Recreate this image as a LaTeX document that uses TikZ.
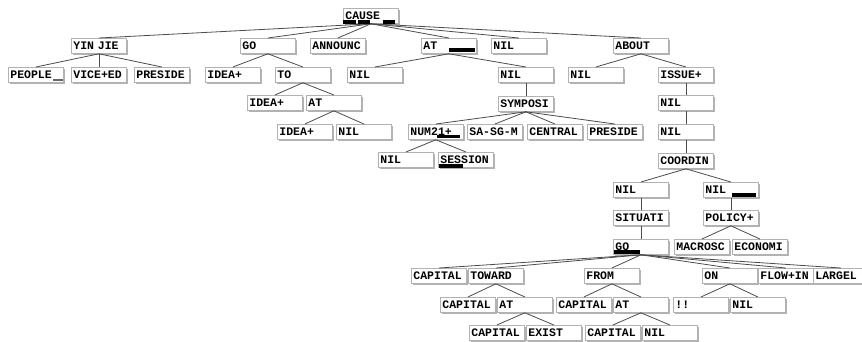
\documentclass[tikz,border=0pt]{standalone}
\usepackage{fontspec}
\setmonofont{Liberation Mono}
\usetikzlibrary{shadows}
\begin{document}
\begin{tikzpicture}[x=1pt,y=-1pt,
        cell/.style={anchor=north west, draw=black!30, line width=0.8pt, fill=white,
            drop shadow={shadow xshift=1.4pt, shadow yshift=-1.4pt, fill=black!30, opacity=1},
            text width=51pt, inner xsep=2pt, inner ysep=0pt, minimum height=15pt, align=left,
            font=\ttfamily\bfseries\fontsize{11.5}{12}\selectfont},
        edge/.style={draw=black!70, line width=0.8pt}]
        \useasboundingbox (0,0) rectangle (862,341);

        \node[cell] (cause) at (343,8) {CAUSE};

        \node[cell] (yinjie) at (71,38) {YIN JIE};
        \node[cell] (go) at (240,38) {GO};
        \node[cell] (announc) at (310,38) {ANNOUNC};
        \node[cell] (at) at (421,38) {AT};
        \node[cell] (nilA) at (491,38) {NIL};
        \node[cell] (about) at (613,38) {ABOUT};

        \node[cell] (people) at (8,67) {PEOPLE};
        \node[cell] (viceed) at (71,67) {VICE+ED};
        \node[cell] (preside) at (134,67) {PRESIDE};
        \node[cell] (ideaA) at (205,67) {IDEA+};
        \node[cell] (to) at (275,67) {TO};
        \node[cell] (nilB) at (347,67) {NIL};
        \node[cell] (nilC) at (498,67) {NIL};
        \node[cell] (nilD) at (568,67) {NIL};
        \node[cell] (issue) at (658,67) {ISSUE+};

        \node[cell] (ideaB) at (247,95) {IDEA+};
        \node[cell] (atB) at (306,95) {AT};
        \node[cell] (symposi) at (498,96) {SYMPOSI};
        \node[cell] (nilE) at (658,95) {NIL};

        \node[cell] (ideaC) at (277,124) {IDEA+};
        \node[cell] (nilF) at (336,124) {NIL};
        \node[cell] (num) at (408,124) {NUM21+};
        \node[cell] (sasgm) at (467,124) {SA-SG-M};
        \node[cell] (central) at (527,124) {CENTRAL};
        \node[cell] (presideB) at (587,124) {PRESIDE};
        \node[cell] (nilG) at (658,124) {NIL};

        \node[cell] (nilH) at (378,152) {NIL};
        \node[cell] (session) at (438,152) {SESSION};
        \node[cell] (coordin) at (658,153) {COORDIN};

        \node[cell] (nilI) at (613,182) {NIL};
        \node[cell] (nilJ) at (703,182) {NIL};

        \node[cell] (situati) at (613,210) {SITUATI};
        \node[cell] (policy) at (703,210) {POLICY+};

        \node[cell] (goB) at (613,239) {GO};
        \node[cell] (macrosc) at (674,239) {MACROSC};
        \node[cell] (economi) at (732,239) {ECONOMI};

        \node[cell] (capA) at (411,268) {CAPITAL};
        \node[cell] (toward) at (468,268) {TOWARD};
        \node[cell] (from) at (584,268) {FROM};
        \node[cell] (on) at (702,268) {ON};
        \node[cell] (flowin) at (758,268) {FLOW+IN};
        \node[cell] (largel) at (813,268) {LARGEL};

        \node[cell] (capB) at (440,297) {CAPITAL};
        \node[cell] (atC) at (497,297) {AT};
        \node[cell] (capC) at (556,297) {CAPITAL};
        \node[cell] (atD) at (613,297) {AT};
        \node[cell] (bang) at (673,297) {!!};
        \node[cell] (nilK) at (730,297) {NIL};

        \node[cell] (capD) at (469,325) {CAPITAL};
        \node[cell] (exist) at (526,325) {EXIST};
        \node[cell] (capE) at (585,325) {CAPITAL};
        \node[cell] (nilL) at (642,325) {NIL};

        \draw[edge] (cause.south) -- (yinjie.north);
        \draw[edge] (cause.south) -- (go.north);
        \draw[edge] (cause.south) -- (announc.north);
        \draw[edge] (cause.south) -- (at.north);
        \draw[edge] (cause.south) -- (nilA.north);
        \draw[edge] (cause.south) -- (about.north);

        \draw[edge] (yinjie.south) -- (people.north);
        \draw[edge] (yinjie.south) -- (viceed.north);
        \draw[edge] (yinjie.south) -- (preside.north);
        \draw[edge] (go.south) -- (ideaA.north);
        \draw[edge] (go.south) -- (to.north);
        \draw[edge] (at.south) -- (nilB.north);
        \draw[edge] (at.south) -- (nilC.north);
        \draw[edge] (about.south) -- (nilD.north);
        \draw[edge] (about.south) -- (issue.north);

        \draw[edge] (to.south) -- (ideaB.north);
        \draw[edge] (to.south) -- (atB.north);
        \draw[edge] (atB.south) -- (ideaC.north);
        \draw[edge] (atB.south) -- (nilF.north);
        \draw[edge] (nilC.south) -- (symposi.north);
        \draw[edge] (issue.south) -- (nilE.north);
        \draw[edge] (nilE.south) -- (nilG.north);

        \draw[edge] (symposi.south) -- (num.north);
        \draw[edge] (symposi.south) -- (sasgm.north);
        \draw[edge] (symposi.south) -- (central.north);
        \draw[edge] (symposi.south) -- (presideB.north);
        \draw[edge] (num.south) -- (nilH.north);
        \draw[edge] (num.south) -- (session.north);
        \draw[edge] (nilG.south) -- (coordin.north);

        \draw[edge] (coordin.south) -- (nilI.north);
        \draw[edge] (coordin.south) -- (nilJ.north);
        \draw[edge] (nilI.south) -- (situati.north);
        \draw[edge] (nilJ.south) -- (policy.north);
        \draw[edge] (situati.south) -- (goB.north);
        \draw[edge] (policy.south) -- (macrosc.north);
        \draw[edge] (policy.south) -- (economi.north);

        \draw[edge] (goB.south) -- (capA.north);
        \draw[edge] (goB.south) -- (toward.north);
        \draw[edge] (goB.south) -- (from.north);
        \draw[edge] (goB.south) -- (on.north);
        \draw[edge] (goB.south) -- (flowin.north);
        \draw[edge] (goB.south) -- (largel.north);

        \draw[edge] (toward.south) -- (capB.north);
        \draw[edge] (toward.south) -- (atC.north);
        \draw[edge] (from.south) -- (capC.north);
        \draw[edge] (from.south) -- (atD.north);
        \draw[edge] (on.south) -- (bang.north);
        \draw[edge] (on.south) -- (nilK.north);
        \draw[edge] (atC.south) -- (capD.north);
        \draw[edge] (atC.south) -- (exist.north);
        \draw[edge] (atD.south) -- (capE.north);
        \draw[edge] (atD.south) -- (nilL.north);

        \fill (343,20) rectangle (356,24);
        \fill (358,20) rectangle (370,24);
        \fill (383,20) rectangle (395,24);
        \fill (449,48) rectangle (475,52);
        \fill (437,135) rectangle (460,138);
        \fill (439,164) rectangle (463,168);
        \fill (732,193) rectangle (756,197);
        \fill (614,250) rectangle (640,254);
        \fill[black!60] (53,79) rectangle (63,81);
    \end{tikzpicture}
\end{document}
